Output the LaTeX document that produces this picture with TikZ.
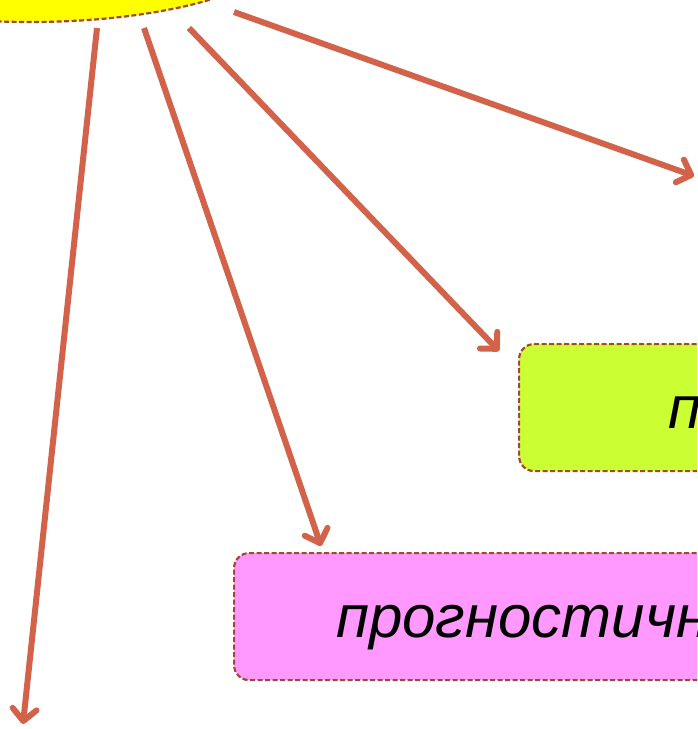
\documentclass[tikz,border=0pt]{standalone}
\usepackage{fontspec}
\setmainfont{Liberation Sans}
\usetikzlibrary{arrows.meta,shapes.geometric}

\definecolor{arrowred}{RGB}{210,98,74}
\definecolor{edgebrown}{RGB}{160,72,48}
\definecolor{sunyellow}{RGB}{255,255,0}
\definecolor{limegreen}{RGB}{204,255,51}
\definecolor{lightpink}{RGB}{255,153,255}

\begin{document}
\begin{tikzpicture}[x=1pt, y=-1pt,
    frame/.style={draw=edgebrown, line width=2.2pt, dash pattern=on 5pt off 2.5pt},
    box/.style={frame, rounded corners=15pt, inner sep=0pt, anchor=north west,
        minimum height=127pt, minimum width=650pt},
    link/.style={draw=arrowred, line width=6pt,
        -{Straight Barb[length=12pt, width=24pt, line cap=round, line join=round]}},
    label/.style={font=\itshape\fontsize{60}{68}\selectfont, anchor=base west, inner sep=0pt}]
    \clip (0,0) rectangle (697,729);
    \useasboundingbox (0,0) rectangle (697,729);

    % Draw centre and boxes
    \node[frame, fill=sunyellow, ellipse, inner sep=0pt,
        minimum width=520pt, minimum height=160pt] (sun) at (30,-58) {};
    \node[box, fill=limegreen] (upper) at (518,343) {};
    \node[box, fill=lightpink] (lower) at (233,552) {};

    % Draw labels
    \node[label] (upperlabel) at (668,428) {п};
    \node[label] (lowerlabel) at (336,637) {прогностичн};

    % Draw arrow ends
    \coordinate (out1) at (97,28);
    \coordinate (in1) at (23,724);
    \coordinate (out2) at (144,28);
    \coordinate (in2) at (321,546);
    \coordinate (out3) at (189,28);
    \coordinate (in3) at (499,351);
    \coordinate (out4) at (234,12);
    \coordinate (in4) at (694,176);

    % Draw arrows
    \draw[link] (out1) -- (in1);
    \draw[link] (out2) -- (in2);
    \draw[link] (out3) -- (in3);
    \draw[link] (out4) -- (in4);
\end{tikzpicture}
\end{document}
